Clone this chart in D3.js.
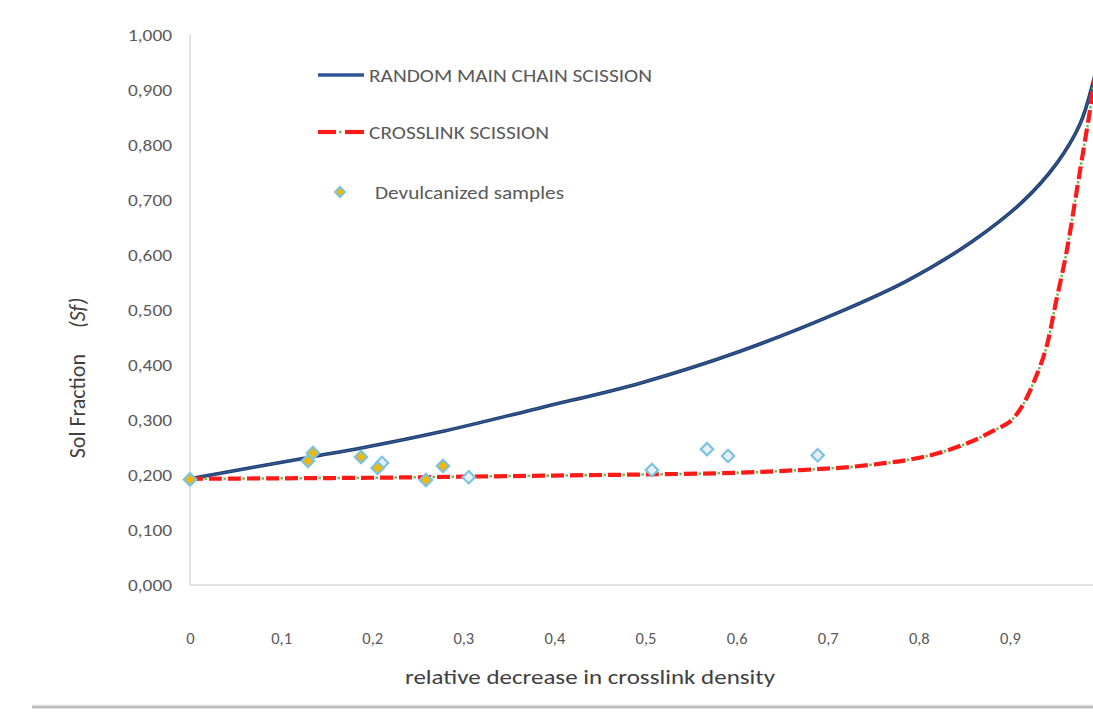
<!DOCTYPE html>
<html>
<head>
<meta charset="utf-8">
<script src="https://cdn.jsdelivr.net/npm/d3@7"></script>
<style>
  html, body { margin: 0; padding: 0; background: #fff; }
  svg { display: block; }
  text { font-family: Carlito, "Liberation Sans Narrow", "DejaVu Sans Condensed", "Liberation Sans", sans-serif; fill: #595959; }
</style>
</head>
<body>
<svg id="chart" width="1093" height="719"></svg>
<script>
// ---- data ----
const xTicks = [0, 0.1, 0.2, 0.3, 0.4, 0.5, 0.6, 0.7, 0.8, 0.9];
const xTickLabels = ["0", "0,1", "0,2", "0,3", "0,4", "0,5", "0,6", "0,7", "0,8", "0,9"];
const yTicks = [0, 0.1, 0.2, 0.3, 0.4, 0.5, 0.6, 0.7, 0.8, 0.9, 1.0];
const yTickLabels = ["0,000", "0,100", "0,200", "0,300", "0,400", "0,500", "0,600", "0,700", "0,800", "0,900", "1,000"];

// random main chain scission curve
const randomX = [0, 0.13, 0.188, 0.274, 0.384, 0.494, 0.604, 0.714, 0.787, 0.859, 0.914, 0.952, 0.977, 0.991, 1.0];
const randomY = [0.193, 0.232, 0.249, 0.278, 0.322, 0.367, 0.425, 0.497, 0.553, 0.625, 0.697, 0.768, 0.838, 0.912, 0.98];

// crosslink scission curve
const crossX = [0, 0.1, 0.2, 0.3, 0.4, 0.5, 0.6, 0.67, 0.72, 0.76, 0.79, 0.82, 0.855, 0.885, 0.90, 0.913, 0.927, 0.94, 0.95, 0.962, 0.973, 0.982, 0.988, 0.991, 1.0];
const crossY = [0.193, 0.194, 0.195, 0.197, 0.199, 0.201, 0.204, 0.209, 0.214, 0.221, 0.228, 0.239, 0.259, 0.283, 0.297, 0.324, 0.372, 0.432, 0.51, 0.604, 0.713, 0.804, 0.864, 0.90, 0.97];

// devulcanized samples (filled)
const sampleX = [0, 0.1295, 0.135, 0.1877, 0.206, 0.259, 0.2777];
const sampleY = [0.192, 0.2255, 0.240, 0.2327, 0.2127, 0.191, 0.2164];
// additional samples (open markers)
const openX = [0.2108, 0.306, 0.507, 0.5675, 0.5906, 0.689];
const openY = [0.2218, 0.196, 0.209, 0.247, 0.2345, 0.236];

// ---- layout ----
const FONT = "Carlito, 'Liberation Sans Narrow', 'DejaVu Sans Condensed', sans-serif";
const svg = d3.select("#chart");
const x = d3.scaleLinear().domain([0, 1]).range([190, 1101]);
const y = d3.scaleLinear().domain([0, 1]).range([585, 35]);

// axes lines
svg.append("line").attr("x1", 190).attr("x2", 190).attr("y1", y(1)).attr("y2", y(0))
  .attr("stroke", "#d9d9d9").attr("stroke-width", 1.5);
svg.append("line").attr("x1", 190).attr("x2", 1093).attr("y1", y(0)).attr("y2", y(0))
  .attr("stroke", "#d9d9d9").attr("stroke-width", 1.5);

// y axis tick labels
const yAxis = d3.axisLeft(y).tickValues(yTicks)
  .tickFormat((d, i) => yTickLabels[i]).tickSize(0).tickPadding(18);
const gy = svg.append("g").attr("transform", "translate(190,0)").call(yAxis);
gy.select(".domain").remove();
gy.selectAll("text").attr("font-size", 16.5).style("fill", "#595959").style("font-family", FONT)
  .attr("textLength", 44).attr("lengthAdjust", "spacingAndGlyphs");

// x axis tick labels
const xAxis = d3.axisBottom(x).tickValues(xTicks)
  .tickFormat((d, i) => xTickLabels[i]).tickSize(0).tickPadding(47);
const gx = svg.append("g").attr("transform", `translate(0,${y(0)})`).call(xAxis);
gx.select(".domain").remove();
gx.selectAll("text").attr("font-size", 16.5).style("fill", "#595959").style("font-family", FONT);

// axis titles
svg.append("text").attr("x", 590).attr("y", 684).attr("text-anchor", "middle")
  .attr("font-size", 21).attr("textLength", 370).attr("lengthAdjust", "spacingAndGlyphs")
  .style("fill", "#404040")
  .text("relative decrease in crosslink density");

const yt = svg.append("text").attr("transform", "translate(85,378) rotate(-90)")
  .attr("text-anchor", "middle").attr("font-size", 22).style("fill", "#404040");
yt.append("tspan").text("Sol Fraction");
yt.append("tspan").attr("dx", 26).attr("font-style", "italic").text("(Sf)");

// clip
svg.append("clipPath").attr("id", "plotclip").append("rect")
  .attr("x", 182).attr("y", 20).attr("width", 911).attr("height", 580);

const plot = svg.append("g").attr("clip-path", "url(#plotclip)");
const line = d3.line().curve(d3.curveCatmullRom.alpha(0.5)).x(d => x(d[0])).y(d => y(d[1]));

const randomData = randomX.map((v, i) => [v, randomY[i]]);
const crossData = crossX.map((v, i) => [v, crossY[i]]);

// blue line
plot.append("path").datum(randomData).attr("d", line)
  .attr("fill", "none").attr("stroke", "#203f73").attr("stroke-width", 3.6);
plot.append("path").datum(randomData).attr("d", line)
  .attr("fill", "none").attr("stroke", "#4a78b5").attr("stroke-width", 1).attr("stroke-opacity", 0.6);

// red dashed + green dots
plot.append("path").datum(crossData).attr("d", line)
  .attr("fill", "none").attr("stroke", "#7ab648").attr("stroke-width", 2.5)
  .attr("stroke-dasharray", "2.5,16.5").attr("stroke-dashoffset", -14.5);
plot.append("path").datum(crossData).attr("d", line)
  .attr("fill", "none").attr("stroke", "#ff1a1a").attr("stroke-width", 4.2)
  .attr("stroke-dasharray", "13,6");

// markers (rotated squares)
const diamond = d3.symbol().type(d3.symbolSquare).size(78);
plot.selectAll(".open").data(openX.map((v, i) => [v, openY[i]])).enter()
  .append("path").attr("class", "open").attr("d", diamond)
  .attr("transform", d => `translate(${x(d[0])},${y(d[1])}) rotate(45)`)
  .attr("fill", "#e6eff8").attr("stroke", "#7cc3df").attr("stroke-width", 2.2);
plot.selectAll(".filled").data(sampleX.map((v, i) => [v, sampleY[i]])).enter()
  .append("path").attr("class", "filled").attr("d", diamond)
  .attr("transform", d => `translate(${x(d[0])},${y(d[1])}) rotate(45)`)
  .attr("fill", "#f2b705").attr("stroke", "#7cc3df").attr("stroke-width", 2.2);

// legend
const lg = svg.append("g");
lg.append("line").attr("x1", 318).attr("x2", 364).attr("y1", 75).attr("y2", 75)
  .attr("stroke", "#2f5597").attr("stroke-width", 3.6);
lg.append("text").attr("x", 369).attr("y", 82).attr("font-size", 19)
  .attr("textLength", 283).attr("lengthAdjust", "spacingAndGlyphs")
  .text("RANDOM MAIN CHAIN SCISSION");

lg.append("line").attr("x1", 318).attr("x2", 336).attr("y1", 132).attr("y2", 132)
  .attr("stroke", "#ff1a1a").attr("stroke-width", 4.2);
lg.append("line").attr("x1", 339).attr("x2", 341.5).attr("y1", 132).attr("y2", 132)
  .attr("stroke", "#7ab648").attr("stroke-width", 2.5);
lg.append("line").attr("x1", 345).attr("x2", 364).attr("y1", 132).attr("y2", 132)
  .attr("stroke", "#ff1a1a").attr("stroke-width", 4.2);
lg.append("text").attr("x", 369).attr("y", 139).attr("font-size", 19)
  .attr("textLength", 180).attr("lengthAdjust", "spacingAndGlyphs")
  .text("CROSSLINK SCISSION");

lg.append("path").attr("d", d3.symbol().type(d3.symbolSquare).size(50))
  .attr("transform", "translate(340,192) rotate(45)")
  .attr("fill", "#f2b705").attr("stroke", "#7cc3df").attr("stroke-width", 2);
lg.append("text").attr("x", 375).attr("y", 199).attr("font-size", 19)
  .attr("textLength", 189).attr("lengthAdjust", "spacingAndGlyphs")
  .text("Devulcanized samples");

// bottom separator line
svg.append("line").attr("x1", 32).attr("x2", 1093).attr("y1", 707).attr("y2", 707)
  .attr("stroke", "#bdbdbd").attr("stroke-width", 3);
svg.append("line").attr("x1", 32).attr("x2", 1093).attr("y1", 705).attr("y2", 705)
  .attr("stroke", "#e6e6e6").attr("stroke-width", 1);
</script>
</body>
</html>
